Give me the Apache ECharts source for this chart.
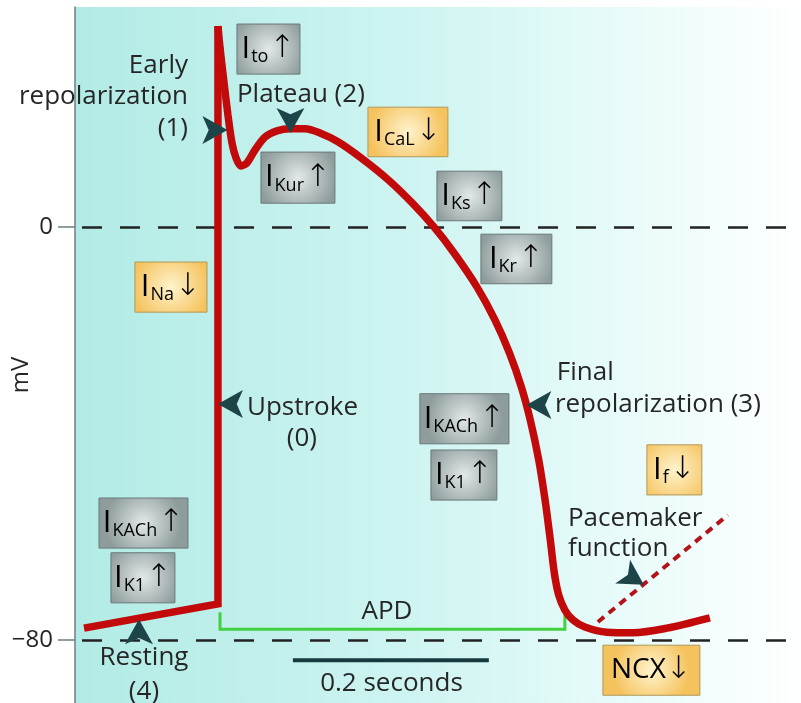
<!DOCTYPE html>
<html><head><meta charset="utf-8">
<script src="https://cdn.jsdelivr.net/npm/echarts@6/dist/echarts.min.js"></script>
<style>html,body{margin:0;padding:0;background:#fff}#c{width:801px;height:703px}</style>
</head><body><div id="c"></div>
<script>
// time in ms, membrane potential in mV
const restingUpstroke = [[9.2,-77.7],[145.9,-73.0],[145.9,38.9]];
const repolarization = [[145.9,38.9],[148.0,34.7],[152.0,28.1],[156.1,21.7],[160.2,16.3],[164.3,13.4],[169.4,11.8],[175.5,12.4],[183.7,14.9],[193.9,17.4],[206.1,18.6],[219.4,19.0],[234.7,19.0],[250.0,18.2],[268.4,16.5],[291.8,13.4],[319.9,9.1],[344.4,4.6],[366.3,0],[386.7,-5.0],[410.2,-11.6],[428.6,-18.0],[443.4,-24.4],[455.6,-31.0],[464.7,-37.4],[473.3,-45.1],[479.8,-52.9],[485.1,-60.6],[489.2,-67.0],[493.7,-71.3],[500.0,-74.2],[508.2,-76.1],[520.4,-77.5],[542.9,-78.5],[569.4,-78.6],[604.1,-77.7],[648.0,-75.7]];
const pacemaker = [[533.7,-76.5],[666.3,-55.8]];
const apdBracket = [[148.0,-74.6],[148.0,-77.9],[500.0,-77.9],[500.0,-74.6]];
const scaleBar = [[222.4,-83.9],[422.4,-83.9]];
const refLevels = [0,-80];
const yTicks = [0,-80];

const boxNames = ['to','Kur','CaL','Ks','Kr','Na','KACh','K1','f','NCX','KACh','K1'];
const boxArrows = ['↑','↑','↓','↑','↑','↓','↑','↑','↓','↓','↑','↑'];
const boxKinds = ['grey','grey','yellow','grey','grey','yellow','grey','grey','yellow','yellow','grey','grey'];
const boxX0 = [165.3,189.8,299.0,369.4,414.3,61.2,352.0,363.3,583.7,538.8,24.5,36.7];
const boxX1 = [229.6,265.3,380.6,435.7,486.7,134.7,442.9,430.6,639.8,637.8,115.3,102.0];
const boxYTop = [39.3,14.5,23.2,10.8,-1.4,-6.8,-32.3,-43.2,-42.2,-81.0,-52.5,-63.1];
const boxYBot = [29.6,4.6,13.6,1.2,-11.0,-16.5,-42.0,-52.9,-51.9,-90.7,-62.2,-72.8];

const labelTexts = ['Early','repolarization','(1)','Plateau (2)','Upstroke','(0)','Final','repolarization (3)','Pacemaker','function','Resting','(4)','APD','0.2 seconds'];
const labelX = [115.3,115.3,115.3,165.3,175.5,231.6,491.8,489.8,503.1,503.1,70.4,70.4,318.4,323.0];
const labelY = [31.2,25.2,19.0,25.6,-34.9,-40.9,-28.3,-34.5,-56.4,-62.2,-83.5,-90.0,-74.4,-88.5];
const labelAlign = ['right','right','right','left','left','center','left','left','left','left','center','center','center','center'];

const pointerX = [155.6,219.9,145.9,460.7,65.3,580.6];
const pointerY = [18.8,18.2,-34.3,-34.5,-76.0,-69.3];
const pointerAngle = [-90,180,90,90,0,-122];

const chart = echarts.init(document.getElementById('c'));
const TXT = '#262626';
const FONT = 'Open Sans';

const bgGrad = new echarts.graphic.LinearGradient(0,0,1,0,[
  {offset:0,color:'#b2ebe5'},{offset:0.45,color:'#cdf4f1'},{offset:0.8,color:'#ecfcfb'},{offset:1,color:'#ffffff'}]);

function boxFill(kind){
  return kind === 'grey'
    ? new echarts.graphic.RadialGradient(0.5,0.5,0.75,[{offset:0,color:'#e2e8e8'},{offset:1,color:'#8e9c9c'}])
    : new echarts.graphic.RadialGradient(0.5,0.5,0.75,[{offset:0,color:'#fff3cd'},{offset:1,color:'#f5c35e'}]);
}

const boxRich = {
  i:{fontSize:31,fontFamily:FONT,color:TXT,lineHeight:34},
  s:{fontSize:18,fontFamily:FONT,color:TXT,lineHeight:12,verticalAlign:'bottom',padding:[0,1,0,1]},
  a:{fontSize:31,fontFamily:'DejaVu Sans',fontWeight:200,color:TXT,lineHeight:34},
  n:{fontSize:28,fontFamily:FONT,color:TXT,lineHeight:34}
};

const option = {
  animation:false,
  grid:{left:75,right:0,top:7,bottom:0,show:true,backgroundColor:bgGrad,borderWidth:0,outerBoundsMode:'none',containLabel:false},
  xAxis:{type:'value',min:0,max:741,axisLine:{show:true,onZero:false,lineStyle:{color:'#9aa5a5',width:1}},
    axisTick:{show:false},axisLabel:{show:false},splitLine:{show:false}},
  yAxis:{type:'value',min:-92.2,max:42.6,name:'mV',nameLocation:'middle',nameGap:42,nameMoveOverlap:false,
    nameTextStyle:{fontSize:24,fontFamily:FONT,color:TXT,padding:[0,40,0,0]},
    axisLine:{show:true,onZero:false,lineStyle:{color:'#6d7f80',width:1.5}},
    axisTick:{show:true,customValues:yTicks,length:17,lineStyle:{color:'#6d7f80',width:1.5}},
    axisLabel:{show:true,customValues:yTicks,fontSize:24,fontFamily:FONT,color:TXT,margin:22,
      formatter:v=> v<0 ? '\u2212'+Math.abs(v) : String(v)},
    splitLine:{show:false}},
  series:[
    {type:'line',data:restingUpstroke,symbol:'none',z:5,
      lineStyle:{color:'#c20a0a',width:7.5,join:'miter'},
      markLine:{silent:true,symbol:'none',label:{show:false},animation:false,z:1,
        lineStyle:{color:'#222',width:2.5,type:[20,18],dashOffset:31},
        data:refLevels.map(v=>({yAxis:v}))}},
    {type:'line',data:repolarization,symbol:'none',smooth:0.3,z:5,
      lineStyle:{color:'#c20a0a',width:7.5}},
    {type:'line',data:pacemaker,symbol:'none',z:4,
      lineStyle:{color:'#b3141a',width:4,type:[8,6]}},
    {type:'line',data:apdBracket,symbol:'none',z:4,
      lineStyle:{color:'#40d040',width:3,join:'miter'}},
    {type:'line',data:scaleBar,symbol:'none',z:4,
      lineStyle:{color:'#173a3e',width:4}},
    {type:'custom',z:6,clip:false,
      data:boxNames.map((n,i)=>[boxX0[i],boxYTop[i],boxX1[i],boxYBot[i]]),
      encode:{x:[0,2],y:[1,3]},
      renderItem:(params,api)=>{
        const i = params.dataIndex;
        const p1 = api.coord([api.value(0),api.value(1)]);
        const p2 = api.coord([api.value(2),api.value(3)]);
        const txt = boxNames[i]==='NCX' ? '{n|NCX}{a|'+boxArrows[i]+'}' : '{i|I}{s|'+boxNames[i]+'}{a|'+boxArrows[i]+'}';
        return {type:'group',children:[
          {type:'rect',shape:{x:p1[0],y:p1[1],width:p2[0]-p1[0],height:p2[1]-p1[1]},
            style:{fill:boxFill(boxKinds[i]),stroke:boxKinds[i]==='grey'?'#6a7878':'#b09858',lineWidth:1}},
          {type:'text',x:(p1[0]+p2[0])/2,y:(p1[1]+p2[1])/2,
            style:{text:txt,rich:boxRich,align:'center',verticalAlign:'middle'}}
        ]};
      }},
    {type:'custom',z:7,clip:false,
      data:labelTexts.map((t,i)=>[labelX[i],labelY[i]]),
      renderItem:(params,api)=>{
        const i = params.dataIndex;
        const p = api.coord([api.value(0),api.value(1)]);
        return {type:'text',x:p[0],y:p[1],
          style:{text:labelTexts[i],fontSize:26,fontFamily:FONT,fill:TXT,align:labelAlign[i],verticalAlign:'middle'}};
      }},
    {type:'scatter',z:8,symbol:'arrow',symbolSize:[21,25],
      itemStyle:{color:'#1d4448',opacity:1},
      data:pointerX.map((x,i)=>({value:[x,pointerY[i]],symbolRotate:pointerAngle[i]}))}
  ]
};
chart.setOption(option);
</script></body></html>
